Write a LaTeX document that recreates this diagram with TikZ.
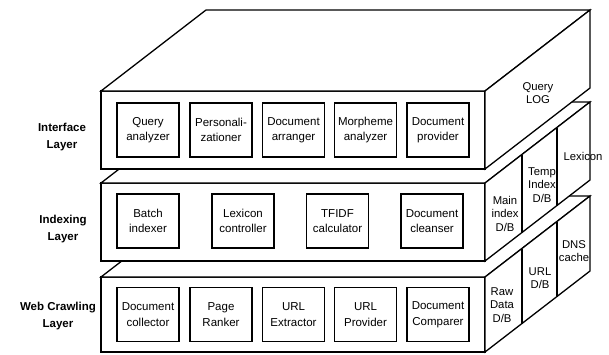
\documentclass[tikz,border=0pt]{standalone}
\usepackage{fontspec}
\setmainfont{Liberation Sans}
\begin{document}
\begin{tikzpicture}[x=1pt, y=-1pt, line join=miter,
  face/.style={draw=black, fill=white, line width=1.3pt},
  divider/.style={draw=black, line width=1.3pt},
  module/.style={draw=black, line width=1.3pt, minimum width=62pt, minimum height=54pt,
                 align=center, inner sep=0pt, font=\fontsize{11.5}{15.5}\selectfont},
  sidetext/.style={align=center, inner sep=0pt, font=\fontsize{11.3}{13.5}\selectfont},
  layername/.style={align=center, inner sep=0pt, font=\bfseries\fontsize{11.5}{17}\selectfont}]

\useasboundingbox (0,0) rectangle (609,354);

% three stacked slabs, drawn from the bottom one up so upper slabs hide the lower ones
\foreach \t/\b in {277/352, 183/261, 91/169} {
  \filldraw[face] (101,\t) rectangle (485,\b);
  \filldraw[face] (101,\t) -- (206,{\t-81}) -- (590,{\t-81}) -- (485,\t) -- cycle;
  \filldraw[face] (485,\t) -- (590,{\t-81}) -- (590,{\b-81}) -- (485,\b) -- cycle;
}

% storage compartments on the side faces
\foreach \t/\b in {277/352, 183/261} {
  \draw[divider] (522,{\t-28.5}) -- (522,{\b-28.5});
  \draw[divider] (557,{\t-55.5}) -- (557,{\b-55.5});
}

% layer names
\node[layername] (nInterface) at (62,137.5) {Interface\\Layer};
\node[layername] (nIndexing)  at (63,229)   {Indexing\\Layer};
\node[layername] (nCrawling)  at (58,316.5) {Web Crawling\\Layer};

% interface layer modules
\node[module] (qa) at (148,130)   {Query\\analyzer};
\node[module] (pz) at (221,130)   {Personali-\\zationer};
\node[module] (da) at (293.5,130) {Document\\arranger};
\node[module] (ma) at (365.5,130) {Morpheme\\analyzer};
\node[module] (dp) at (438,130)   {Document\\provider};

% indexing layer modules
\node[module] (bi) at (148,221)   {Batch\\indexer};
\node[module] (lc) at (243,221)   {Lexicon\\controller};
\node[module] (tc) at (337.5,221) {TFIDF\\calculator};
\node[module] (dc) at (432,221)   {Document\\cleanser};

% web crawling layer modules
\node[module] (dcol) at (148,314.5)   {Document\\collector};
\node[module] (pr)   at (221,314.5)   {Page\\Ranker};
\node[module] (ue)   at (293.5,314.5) {URL\\Extractor};
\node[module] (up)   at (365.5,314.5) {URL\\Provider};
\node[module] (dcmp) at (438,314.5)   {Document\\Comparer};

% side-face stores
\node[sidetext] (qlog) at (538,93)    {Query\\LOG};
\node[sidetext] (mi)   at (505,213.5) {Main\\index\\D/B};
\node[sidetext] (ti)   at (542,185)   {Temp\\Index\\D/B};
\node[sidetext] (lex)  at (583,156)   {Lexicon};
\node[sidetext] (raw)  at (502,305)   {Raw\\Data\\D/B};
\node[sidetext] (url)  at (540,278)   {URL\\D/B};
\node[sidetext] (dns)  at (574,251)   {DNS\\cache};
\end{tikzpicture}
\end{document}
